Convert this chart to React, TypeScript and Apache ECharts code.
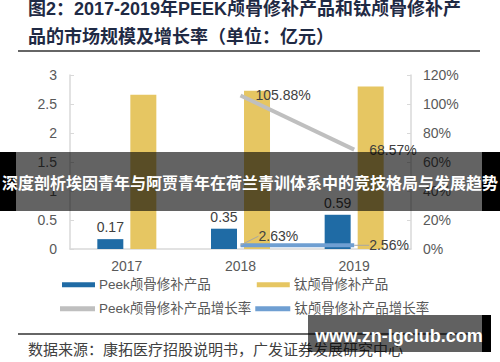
import React, { useEffect, useRef } from "react";
import * as echarts from "echarts";

const years = ["2017", "2018", "2019"];
const peekValues = [0.17, 0.35, 0.59];
const tiValues = [2.66, 2.73, 2.8];
const peekGrowth = [null, 105.88, 68.57];
const tiGrowth = [null, 2.63, 2.56];
const seriesNames = ["Peek颅骨修补产品", "钛颅骨修补产品", "Peek颅骨修补产品增长率", "钛颅骨修补产品增长率"];
const titleLines = ["图2：2017-2019年PEEK颅骨修补产品和钛颅骨修补产", "品的市场规模及增长率（单位：亿元）"];
const sourceText = "数据来源：康拓医疗招股说明书，广发证券发展研究中心";
const bannerText = "深度剖析埃因青年与阿贾青年在荷兰青训体系中的竞技格局与发展趋势";
const watermarkText = "www.zn-lgclub.com";

const NUM_FONT = "'Liberation Sans', Arial, sans-serif";
const CJK_FONT = "'Liberation Sans', 'Noto Sans CJK SC', sans-serif";

export default function App() {
  const ref = useRef<HTMLDivElement>(null);
  useEffect(() => {
    if (!ref.current) return;
    const chart = echarts.init(ref.current, undefined, { renderer: "svg" });
    const axisLabel = { color: "#595959", fontSize: 14, fontFamily: NUM_FONT };
    const dataLabel = { show: true, color: "#404040", fontSize: 14, fontFamily: NUM_FONT };
    const legendText = { color: "#595959", fontSize: 13.5, fontFamily: CJK_FONT, padding: [0, 0, 0, -1] };
    chart.setOption({
      animation: false,
      backgroundColor: "#ffffff",
      grid: { left: 70, right: 89, top: 75, bottom: 113, containLabel: false },
      legend: [
        {
          data: [seriesNames[0], seriesNames[1]],
          left: 57,
          top: 273,
          itemWidth: 33,
          itemHeight: 5,
          itemGap: 46,
          icon: "rect",
          textStyle: legendText,
        },
        {
          data: [seriesNames[2], seriesNames[3]],
          left: 55,
          top: 297,
          itemWidth: 35,
          itemHeight: 5,
          itemGap: 4,
          icon: "rect",
          textStyle: legendText,
        },
      ],
      xAxis: {
        type: "category",
        data: years,
        axisLine: { lineStyle: { color: "#d9d9d9", width: 1.5 } },
        axisTick: { show: false },
        axisLabel: { ...axisLabel, margin: 10 },
      },
      yAxis: [
        {
          type: "value",
          min: 0,
          max: 3,
          interval: 0.5,
          splitLine: { show: false },
          axisLine: { show: true, lineStyle: { color: "#d9d9d9", width: 1.5 } },
          axisTick: { show: true, inside: true, length: 4, lineStyle: { color: "#d9d9d9" } },
          axisLabel: { ...axisLabel, margin: 13 },
        },
        {
          type: "value",
          min: 0,
          max: 120,
          interval: 20,
          splitLine: { show: false },
          axisLine: { show: true, lineStyle: { color: "#d9d9d9", width: 1.5 } },
          axisTick: { show: true, inside: true, length: 4, lineStyle: { color: "#d9d9d9" } },
          axisLabel: { ...axisLabel, margin: 12, formatter: "{value}%" },
        },
      ],
      series: [
        {
          name: seriesNames[0],
          type: "bar",
          data: peekValues,
          barWidth: 26,
          barGap: "27%",
          itemStyle: { color: "#1f6ba5" },
          label: { ...dataLabel, position: "top", distance: 5 },
        },
        {
          name: seriesNames[1],
          type: "bar",
          data: tiValues,
          barWidth: 26,
          barGap: "27%",
          itemStyle: { color: "#e6c662" },
        },
        {
          name: seriesNames[2],
          type: "line",
          yAxisIndex: 1,
          data: peekGrowth,
          symbol: "circle",
          symbolSize: 0,
          showSymbol: true,
          lineStyle: { color: "#bfbfbf", width: 4 },
          itemStyle: { color: "#bfbfbf" },
          label: { ...dataLabel, position: "right", distance: 5, formatter: "{c}%" },
          labelLayout: { dx: 10, dy: 0 },
        },
        {
          name: seriesNames[3],
          type: "line",
          yAxisIndex: 1,
          data: tiGrowth,
          symbol: "circle",
          symbolSize: 0,
          showSymbol: true,
          lineStyle: { color: "#6f9fd2", width: 4 },
          itemStyle: { color: "#6f9fd2" },
          label: { ...dataLabel, position: "right", distance: 5, formatter: "{c}%" },
          labelLayout: (params: any) =>
            params.dataIndex === 1 ? { dx: 13, dy: -9 } : { dx: 10, dy: 0 },
          labelLine: { show: true, lineStyle: { color: "#a6a6a6", width: 1 } },
        },
      ],
      graphic: [
        {
          type: "text",
          left: 28,
          top: 0,
          style: {
            text: titleLines[0],
            fill: "#1f2a44",
            font: "bold 18px 'Liberation Sans', 'Noto Sans CJK SC', sans-serif",
          },
        },
        {
          type: "text",
          left: 28,
          top: 28,
          style: {
            text: titleLines[1],
            fill: "#1f2a44",
            font: "bold 18px 'Liberation Sans', 'Noto Sans CJK SC', sans-serif",
          },
        },
        {
          type: "line",
          shape: { x1: 18, y1: 51, x2: 480, y2: 51 },
          style: { stroke: "#333333", lineWidth: 1.5 },
        },
        {
          type: "line",
          shape: { x1: 18, y1: 334, x2: 480, y2: 334 },
          style: { stroke: "#333333", lineWidth: 1.5 },
        },
        {
          type: "text",
          left: 28,
          top: 341,
          style: {
            text: sourceText,
            fill: "#404040",
            font: "15px 'Noto Sans CJK SC', sans-serif",
          },
        },
        {
          type: "rect",
          z: 100,
          shape: { x: 0, y: 152, width: 500, height: 59 },
          style: { fill: "rgba(0,0,0,0.61)" },
        },
        {
          type: "rect",
          z: 100,
          shape: { x: 0, y: 152, width: 16, height: 59 },
          style: { fill: "#000000" },
        },
        {
          type: "rect",
          z: 100,
          shape: { x: 482, y: 152, width: 18, height: 59 },
          style: { fill: "#000000" },
        },
        {
          type: "text",
          z: 101,
          x: 250,
          y: 182,
          style: {
            text: bannerText,
            fill: "#ffffff",
            font: "bold 16px 'Noto Sans CJK SC', sans-serif",
            align: "center",
            verticalAlign: "middle",
          },
        },
        {
          type: "rect",
          z: 100,
          shape: { x: 308, y: 315, width: 174, height: 37 },
          style: { fill: "rgba(0,0,0,0.62)" },
        },
        {
          type: "rect",
          z: 100,
          shape: { x: 482, y: 315, width: 9, height: 37 },
          style: { fill: "#000000" },
        },
        {
          type: "text",
          z: 101,
          x: 399,
          y: 336,
          style: {
            text: watermarkText,
            fill: "#ffffff",
            font: "bold 18px 'Liberation Sans', Arial, sans-serif",
            align: "center",
            verticalAlign: "middle",
          },
        },
      ],
    });
    return () => chart.dispose();
  }, []);
  return <div ref={ref} style={{ width: 500, height: 362, position: "absolute", left: 0, top: 0 }} />;
}
